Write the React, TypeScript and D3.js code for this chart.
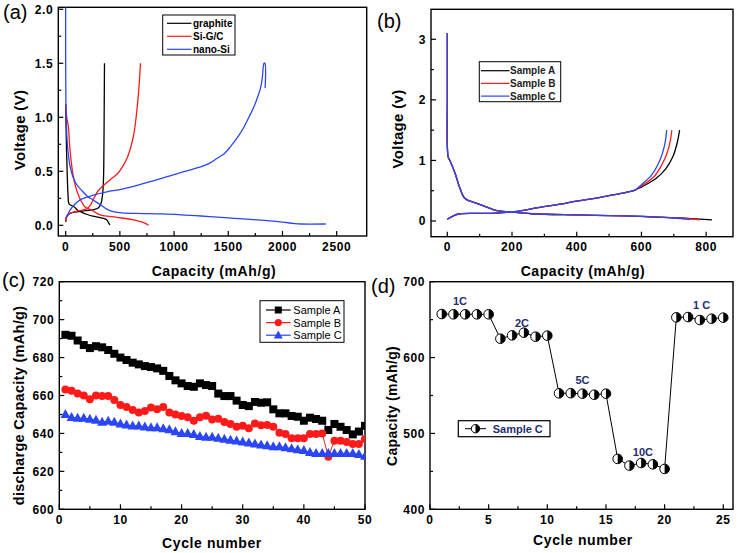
import React from "react";
import * as d3 from "d3";

type P = [number, number];

// ---------- Panel (a): voltage profiles ----------
const graphiteDischarge: P[] = [[0,1.12],[3,0.95],[8,0.7],[15,0.45],[22,0.28],[30,0.2],[50,0.185],[80,0.17],[110,0.14],[150,0.12],[200,0.1],[250,0.085],[300,0.075],[350,0.065],[380,0.05],[395,0.025],[408,0.003]];
const graphiteCharge: P[] = [[0,0.03],[10,0.08],[40,0.11],[100,0.125],[180,0.135],[260,0.145],[300,0.16],[325,0.2],[340,0.28],[348,0.4],[352,0.6],[355,1.0],[358,1.5]];
const sigcDischarge: P[] = [[0,1.12],[10,1.0],[25,0.91],[40,0.7],[71,0.45],[117,0.28],[179,0.17],[241,0.14],[318,0.096],[472,0.074],[627,0.05],[719,0.025],[765,0.0]];
const sigcCharge: P[] = [[0,0.03],[5,0.07],[20,0.1],[60,0.12],[120,0.135],[190,0.15],[230,0.19],[260,0.25],[300,0.32],[350,0.37],[420,0.43],[480,0.48],[530,0.55],[570,0.63],[600,0.72],[630,0.85],[650,1.0],[670,1.2],[683,1.38],[690,1.5]];
const nanoSiDischarge: P[] = [[0,2.05],[0,1.6],[2,1.15],[8,0.9],[20,0.7],[40,0.55],[70,0.44],[100,0.38],[150,0.32],[200,0.27],[260,0.23],[320,0.19],[380,0.15],[440,0.127],[520,0.115],[650,0.11],[900,0.105],[1100,0.095],[1250,0.086],[1400,0.075],[1550,0.065],[1700,0.055],[1860,0.043],[2000,0.03],[2100,0.018],[2170,0.012],[2400,0.012]];
const nanoSiCharge: P[] = [[0,0.065],[20,0.1],[40,0.14],[80,0.19],[133,0.235],[200,0.26],[256,0.28],[380,0.31],[500,0.33],[627,0.36],[800,0.41],[935,0.45],[1100,0.5],[1244,0.54],[1330,0.575],[1398,0.62],[1470,0.67],[1522,0.73],[1590,0.82],[1645,0.91],[1700,1.02],[1738,1.1],[1775,1.2],[1800,1.28],[1815,1.38],[1830,1.5],[1838,1.5],[1840,1.27]];
const legendA = ["graphite", "Si-G/C", "nano-Si"];

// ---------- Panel (b): samples A/B/C ----------
const dischargeHead: P[] = [[0,3.1],[0,2.0],[0,1.25],[3,1.05],[8,1.0],[24,0.79],[39,0.54],[55,0.37],[91,0.29],[122,0.23],[153,0.17],[194,0.15],[260,0.12],[400,0.1],[550,0.085],[650,0.065]];
const dischargeTailA: P[] = [[720,0.05],[780,0.03],[818,0.02]];
const dischargeTailB: P[] = [[710,0.05],[760,0.03],[780,0.02]];
const dischargeTailC: P[] = [[700,0.05],[730,0.035],[750,0.025]];
const chargeHead: P[] = [[0,0.03],[10,0.06],[25,0.1],[40,0.12],[100,0.125],[150,0.13],[200,0.15],[230,0.17],[280,0.22],[350,0.28],[400,0.33],[450,0.37],[500,0.42],[550,0.47],[580,0.51]];
const chargeTailA: P[] = [[600,0.56],[645,0.7],[675,0.86],[697,1.06],[710,1.28],[718,1.5]];
const chargeTailB: P[] = [[600,0.58],[640,0.74],[662,0.92],[679,1.12],[689,1.32],[694,1.5]];
const chargeTailC: P[] = [[600,0.6],[630,0.75],[650,0.92],[665,1.12],[674,1.32],[678,1.5]];
const legendB = ["Sample A", "Sample B", "Sample C"];

// ---------- Panel (c): cycling ----------
const cyclesC = d3.range(1, 51);
const capA = [692,691.5,689,686.6,685,686,685.4,684,682,680,678.7,677.3,676.4,675.5,675,674.3,673,670.3,668,666.4,665,664.6,666.4,665.5,665,661,659.7,659.7,657.3,655,654.4,656.6,656.2,656.4,652.7,650.6,650.6,649.2,648.8,646.7,648.3,647.6,646.7,641.8,645,643.5,641.8,639.5,641,644];
const capB = [663.2,662.5,661,660,658,660,659.7,659.7,657.6,655,654,652.3,651,651.8,653.7,652.7,654,651,650,649.2,648.5,646.7,648.5,649.3,647.4,647.8,646,645,643.5,644,642.7,645.3,644.3,644.4,643.5,640.4,639.7,637.4,637.4,637.4,639.7,639.7,640,627.7,636.2,636.2,635.5,634.4,634.4,637];
const capC = [650,648.5,648,648,647.5,647,646,646.5,646,645,644.5,644,644,643.5,643,643,642.5,642,641,640,640,639.5,638.5,638,638,637.5,637,636.5,636,635.5,635,634.5,634,633.5,633,633,632.5,632,631.5,631,630,629.5,629.5,629.5,629.5,629.5,629.5,629.5,629,628];

// ---------- Panel (d): rate capability ----------
const cyclesD = d3.range(1, 26);
const rateC = [657.4,657,657,657,657,624.9,629.3,632.8,627.5,628.9,552.9,553,552.4,551,552.4,466.4,457.6,461,459.3,453.2,653,653.4,649.5,651.2,652.6];
const rateLabels = ["1C", "2C", "5C", "10C", "1 C"];
const rateLabelX = [2.56, 7.84, 13.0, 18.15, 23.16];
const rateLabelY = [674.8, 645.6, 570.8, 475.9, 668.8];

const FONT = "'Liberation Sans', Arial, Helvetica, sans-serif";
const RED = "#ff1a1a";
const BLUE = "#2a46f5";
const NAVY = "#1f2f6e";

type Lin = d3.ScaleLinear<number, number>;

function Frame(props: {
  id: string; x: Lin; y: Lin;
  xMajor: number[]; xMinor: number[]; yMajor: number[]; yMinor: number[];
  xFmt: (v: number) => string; yFmt: (v: number) => string;
}) {
  const { x, y } = props;
  const [x0, x1] = x.range();
  const [y0, y1] = y.range();
  return (
    <g>
      <defs>
        <clipPath id={props.id}>
          <rect x={x0} y={y1} width={x1 - x0} height={y0 - y1} />
        </clipPath>
      </defs>
      {props.xMajor.map((t) => (
        <line key={"xM" + t} x1={x(t)} x2={x(t)} y1={y0} y2={y0 - 5} stroke="#000" strokeWidth={1.2} />
      ))}
      {props.xMinor.map((t) => (
        <line key={"xm" + t} x1={x(t)} x2={x(t)} y1={y0} y2={y0 - 3} stroke="#000" strokeWidth={1.2} />
      ))}
      {props.yMajor.map((t) => (
        <line key={"yM" + t} x1={x0} x2={x0 + 5} y1={y(t)} y2={y(t)} stroke="#000" strokeWidth={1.2} />
      ))}
      {props.yMinor.map((t) => (
        <line key={"ym" + t} x1={x0} x2={x0 + 3} y1={y(t)} y2={y(t)} stroke="#000" strokeWidth={1.2} />
      ))}
      {props.xMajor.map((t) => (
        <text key={"xl" + t} x={x(t)} y={y0 + 14.5} textAnchor="middle" fontFamily={FONT} fontWeight="bold" fontSize={12} letterSpacing={0.6}>
          {props.xFmt(t)}
        </text>
      ))}
      {props.yMajor.map((t) => (
        <text key={"yl" + t} x={x0 - 5} y={y(t)} dy="0.36em" textAnchor="end" fontFamily={FONT} fontWeight="bold" fontSize={12} letterSpacing={0.6}>
          {props.yFmt(t)}
        </text>
      ))}
      <rect x={x0} y={y1} width={x1 - x0} height={y0 - y1} fill="none" stroke="#000" strokeWidth={1.4} />
    </g>
  );
}

function Curve({ data, x, y, color, clip }: { data: P[]; x: Lin; y: Lin; color: string; clip: string }) {
  const gen = d3.line<P>().x((d) => x(d[0])).y((d) => y(d[1])).curve(d3.curveCatmullRom.alpha(0.5));
  return <path d={gen(data) || ""} fill="none" stroke={color} strokeWidth={1.3} clipPath={`url(#${clip})`} />;
}

function AxisTitleX({ x, y, text }: { x: number; y: number; text: string }) {
  return (
    <text x={x} y={y} textAnchor="middle" fontFamily={FONT} fontWeight="bold" fontSize={14} letterSpacing={0.6}>
      {text}
    </text>
  );
}
function AxisTitleY({ x, y, text, size = 15 }: { x: number; y: number; text: string; size?: number }) {
  return (
    <text transform={`translate(${x},${y}) rotate(-90)`} textAnchor="middle" dy="0.36em" fontFamily={FONT} fontWeight="bold" fontSize={size} letterSpacing={0.3}>
      {text}
    </text>
  );
}

export default function App() {
  // Panel (a)
  const xa = d3.scaleLinear().domain([-68, 2777]).range([58.3, 366.7]);
  const ya = d3.scaleLinear().domain([-0.099, 2.018]).range([236, 7.3]);
  // Panel (b)
  const xb = d3.scaleLinear().domain([-50.4, 883]).range([431, 733]);
  const yb = d3.scaleLinear().domain([-0.259, 3.495]).range([236.7, 9.3]);
  // Panel (c)
  const xc = d3.scaleLinear().domain([0, 50]).range([59.3, 365]);
  const yc = d3.scaleLinear().domain([600, 720]).range([509.3, 281.7]);
  // Panel (d)
  const xd = d3.scaleLinear().domain([0, 25.83]).range([430, 733]);
  const yd = d3.scaleLinear().domain([400, 700]).range([509.3, 281.7]);

  const seriesA: [P[], string][] = [
    [graphiteDischarge, "#000"], [graphiteCharge, "#000"],
    [sigcDischarge, RED], [sigcCharge, RED],
    [nanoSiDischarge, BLUE], [nanoSiCharge, BLUE],
  ];
  const seriesB: [P[], string][] = [
    [dischargeHead.concat(dischargeTailA), "#000"], [chargeHead.concat(chargeTailA), "#000"],
    [dischargeHead.concat(dischargeTailB), RED], [chargeHead.concat(chargeTailB), RED],
    [dischargeHead.concat(dischargeTailC), BLUE], [chargeHead.concat(chargeTailC), BLUE],
  ];
  const legendColors = ["#000", RED, BLUE];

  const lineC = (vals: number[]) =>
    d3.line<number>().x((_, i) => xc(cyclesC[i])).y((v) => yc(v))(vals) || "";
  const lineD = d3.line<number>().x((_, i) => xd(cyclesD[i])).y((v) => yd(v))(rateC) || "";

  const square = (cx: number, cy: number, s: number, key: string, color: string) => (
    <rect key={key} x={cx - s / 2} y={cy - s / 2} width={s} height={s} fill={color} />
  );
  const circle = (cx: number, cy: number, r: number, key: string, color: string) => (
    <circle key={key} cx={cx} cy={cy} r={r} fill={color} />
  );
  const tri = (cx: number, cy: number, s: number, key: string, color: string) => (
    <path key={key} d={`M${cx},${cy - s * 0.6} L${cx + s * 0.55},${cy + s * 0.4} L${cx - s * 0.55},${cy + s * 0.4} Z`} fill={color} />
  );
  const half = (cx: number, cy: number, r: number, key: string) => (
    <g key={key}>
      <circle cx={cx} cy={cy} r={r} fill="#fff" stroke="#000" strokeWidth={1} />
      <path d={`M${cx},${cy - r} A${r},${r} 0 0 1 ${cx},${cy + r} Z`} fill="#000" />
    </g>
  );

  return (
    <svg width={739} height={553} viewBox="0 0 739 553" style={{ position: "absolute", left: 0, top: 0, background: "#fff" }}>
      <rect x={0} y={0} width={739} height={553} fill="#fff" />

      {/* ---------- (a) ---------- */}
      <Frame id="clipA" x={xa} y={ya}
        xMajor={[0, 500, 1000, 1500, 2000, 2500]} xMinor={[250, 750, 1250, 1750, 2250]}
        yMajor={[0, 0.5, 1, 1.5, 2]} yMinor={[0.25, 0.75, 1.25, 1.75]}
        xFmt={(v) => String(v)} yFmt={(v) => v.toFixed(1)} />
      {seriesA.map(([d, c], i) => <Curve key={"a" + i} data={d} x={xa} y={ya} color={c} clip="clipA" />)}
      <rect x={162.7} y={15} width={72.3} height={40} fill="#fff" stroke="#000" strokeWidth={1} />
      {legendA.map((t, i) => (
        <g key={"la" + i}>
          <line x1={167} x2={191.5} y1={23.3 + i * 13} y2={23.3 + i * 13} stroke={legendColors[i]} strokeWidth={1.2} />
          <text x={193} y={23.3 + i * 13} dy="0.36em" fontFamily={FONT} fontWeight="bold" fontSize={10}>{t}</text>
        </g>
      ))}
      <AxisTitleY x={20} y={130} text="Voltage (V)" />
      <AxisTitleX x={214} y={276} text="Capacity (mAh/g)" />
      <text x={3} y={19} fontFamily={FONT} fontSize={20}>(a)</text>

      {/* ---------- (b) ---------- */}
      <Frame id="clipB" x={xb} y={yb}
        xMajor={[0, 200, 400, 600, 800]} xMinor={[100, 300, 500, 700]}
        yMajor={[0, 1, 2, 3]} yMinor={[0.5, 1.5, 2.5]}
        xFmt={(v) => String(v)} yFmt={(v) => String(v)} />
      {seriesB.map(([d, c], i) => <Curve key={"b" + i} data={d} x={xb} y={yb} color={c} clip="clipB" />)}
      <rect x={479.3} y={61.7} width={81.4} height={40} fill="#fff" stroke="#000" strokeWidth={1} />
      {legendB.map((t, i) => (
        <g key={"lb" + i}>
          <line x1={481} x2={509.5} y1={70.7 + i * 12.7} y2={70.7 + i * 12.7} stroke={legendColors[i]} strokeWidth={1.2} />
          <text x={510} y={70.7 + i * 12.7} dy="0.36em" fontFamily={FONT} fontWeight="bold" fontSize={10} fill="#222">{t}</text>
        </g>
      ))}
      <AxisTitleY x={398} y={129} text="Voltage (v)" />
      <AxisTitleX x={583} y={276} text="Capacity (mAh/g)" />
      <text x={377} y={27.5} fontFamily={FONT} fontSize={20}>(b)</text>

      {/* ---------- (c) ---------- */}
      <Frame id="clipC" x={xc} y={yc}
        xMajor={[0, 10, 20, 30, 40, 50]} xMinor={[5, 15, 25, 35, 45]}
        yMajor={[600, 620, 640, 660, 680, 700, 720]} yMinor={[610, 630, 650, 670, 690, 710]}
        xFmt={(v) => String(v)} yFmt={(v) => String(v)} />
      <g clipPath="url(#clipC)">
        <path d={lineC(capA)} fill="none" stroke="#000" strokeWidth={1} />
        {capA.map((v, i) => square(xc(cyclesC[i]), yc(v), 8, "sa" + i, "#000"))}
        <path d={lineC(capB)} fill="none" stroke={RED} strokeWidth={1} />
        {capB.map((v, i) => circle(xc(cyclesC[i]), yc(v), 4, "sb" + i, RED))}
        <path d={lineC(capC)} fill="none" stroke={BLUE} strokeWidth={1} />
        {capC.map((v, i) => tri(xc(cyclesC[i]), yc(v), 9, "sc" + i, BLUE))}
      </g>
      <rect x={260} y={300.7} width={84} height={41.6} fill="#fff" stroke="#000" strokeWidth={1} />
      {legendB.map((t, i) => {
        const yy = 310 + i * 12.6;
        const mk = i === 0 ? square(278.3, yy, 7, "lcm" + i, "#000") : i === 1 ? circle(278.3, yy, 3.6, "lcm" + i, RED) : tri(278.3, yy, 8, "lcm" + i, BLUE);
        return (
          <g key={"lc" + i}>
            <line x1={266} x2={290.7} y1={yy} y2={yy} stroke={legendColors[i]} strokeWidth={1.2} />
            {mk}
            <text x={293.3} y={yy} dy="0.36em" fontFamily={FONT} fontSize={11}>{t}</text>
          </g>
        );
      })}
      <AxisTitleY x={19} y={405.5} text="discharge Capacity (mAh/g)" size={14.5} />
      <AxisTitleX x={212} y={548} text="Cycle number" />
      <text x={2} y={287} fontFamily={FONT} fontSize={20}>(c)</text>

      {/* ---------- (d) ---------- */}
      <Frame id="clipD" x={xd} y={yd}
        xMajor={[0, 5, 10, 15, 20, 25]} xMinor={[2.5, 7.5, 12.5, 17.5, 22.5]}
        yMajor={[400, 500, 600, 700]} yMinor={[450, 550, 650]}
        xFmt={(v) => String(v)} yFmt={(v) => String(v)} />
      <g clipPath="url(#clipD)">
        <path d={lineD} fill="none" stroke="#000" strokeWidth={1} />
        {rateC.map((v, i) => half(xd(cyclesD[i]), yd(v), 4.8, "d" + i))}
      </g>
      {rateLabels.map((t, i) => (
        <text key={"rl" + i} x={xd(rateLabelX[i])} y={yd(rateLabelY[i])} dy="0.36em" textAnchor="middle" fontFamily={FONT} fontWeight="bold" fontSize={11} fill={NAVY}>{t}</text>
      ))}
      <rect x={458.3} y={420.7} width={91.7} height={16} fill="#fff" stroke="#000" strokeWidth={1.2} />
      <line x1={465} x2={486} y1={428.7} y2={428.7} stroke="#000" strokeWidth={1} />
      {half(475.5, 428.7, 4.2, "dleg")}
      <text x={492.7} y={428.7} dy="0.36em" fontFamily={FONT} fontWeight="bold" fontSize={11} fill={NAVY}>Sample C</text>
      <AxisTitleY x={392} y={406} text="Capacity (mAh/g)" size={14} />
      <AxisTitleX x={583} y={545} text="Cycle number" />
      <text x={371} y={293} fontFamily={FONT} fontSize={20}>(d)</text>
    </svg>
  );
}
